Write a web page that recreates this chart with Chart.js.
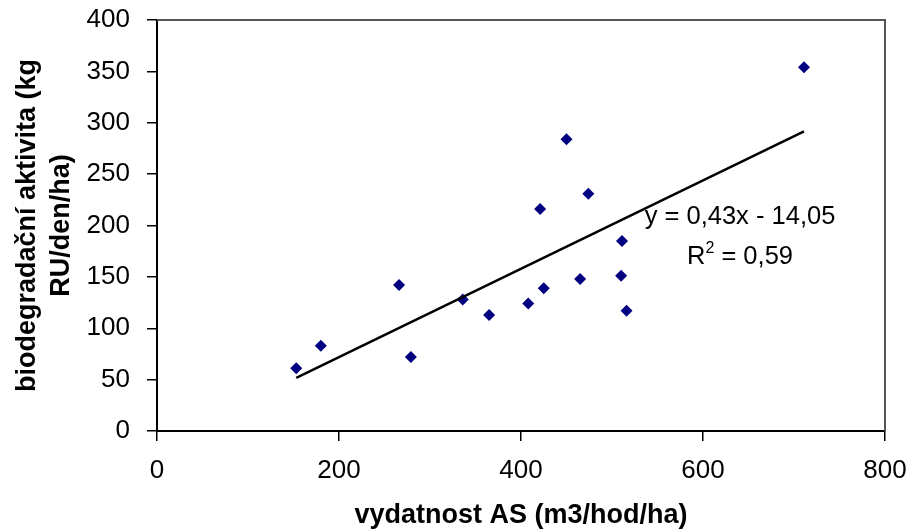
<!DOCTYPE html>
<html>
<head>
<meta charset="utf-8">
<script src="https://cdn.jsdelivr.net/npm/chart.js@4.4.1/dist/chart.umd.min.js"></script>
<style>
  html, body { margin: 0; padding: 0; background: #fff; }
  #wrap { width: 912px; height: 530px; }
</style>
</head>
<body>
<div id="wrap"><canvas id="chart"></canvas></div>
<script>
// values
const flowRates = [153, 180, 266, 279, 336, 365, 408, 421, 425, 450, 465, 474, 510, 511, 516, 711];
const bioActivity = [61, 83, 142, 72, 128, 113, 124, 216, 139, 284, 148, 231, 151, 185, 117, 354];
const trendX = [153, 711];
const trendY = [51.7, 291.7];
const equationText = 'y = 0,43x - 14,05';
const rSquaredText = ' = 0,59';
const xTitle = 'vydatnost AS (m3/hod/ha)';
const yTitle = ['biodegradační aktivita (kg', 'RU/den/ha)'];

const FONT = '"Liberation Sans", Arial, sans-serif';
Chart.defaults.font.family = FONT;
Chart.defaults.color = '#000';

// grey frame on top and right of the plot area
const framePlugin = {
    id: 'frame',
    beforeDatasetsDraw(chart) {
        const { ctx, chartArea: a } = chart;
        ctx.save();
        ctx.strokeStyle = '#555';
        ctx.lineWidth = 2;
        ctx.beginPath();
        ctx.moveTo(a.left, a.top);
        ctx.lineTo(a.right, a.top);
        ctx.lineTo(a.right, a.bottom);
        ctx.stroke();
        ctx.restore();
    }
};

// trendline equation label
const labelPlugin = {
    id: 'trendLabel',
    afterDatasetsDraw(chart) {
        const ctx = chart.ctx;
        const cx = 740;
        ctx.save();
        ctx.fillStyle = '#000';
        ctx.textBaseline = 'alphabetic';
        ctx.font = '25.5px ' + FONT;
        ctx.textAlign = 'center';
        ctx.fillText(equationText, cx, 224);

        ctx.textAlign = 'left';
        const wR = ctx.measureText('R').width;
        const wRest = ctx.measureText(rSquaredText).width;
        ctx.font = '16px ' + FONT;
        const w2 = ctx.measureText('2').width;
        let x = cx - (wR + w2 + wRest) / 2;
        ctx.font = '25.5px ' + FONT;
        ctx.fillText('R', x, 264);
        x += wR;
        ctx.font = '16px ' + FONT;
        ctx.fillText('2', x, 253);
        x += w2;
        ctx.font = '25.5px ' + FONT;
        ctx.fillText(rSquaredText, x, 264);
        ctx.restore();
    }
};

function noScalePadding(scale) {
    scale.paddingLeft = 0;
    scale.paddingRight = 0;
    scale.paddingTop = 0;
    scale.paddingBottom = 0;
}

const ctx = document.getElementById('chart').getContext('2d');
new Chart(ctx, {
    type: 'scatter',
    data: {
        datasets: [
            {
                data: trendX.map((x, i) => ({ x: x, y: trendY[i] })),
                showLine: true,
                borderColor: '#000',
                borderWidth: 2.5,
                pointRadius: 0,
                order: 1
            },
            {
                data: flowRates.map((x, i) => ({ x: x, y: bioActivity[i] })),
                pointStyle: 'rectRot',
                pointRadius: 6,
                backgroundColor: '#000080',
                borderColor: '#000080',
                borderWidth: 0,
                order: 2
            }
        ]
    },
    options: {
        responsive: true,
        maintainAspectRatio: false,
        animation: false,
        layout: { padding: { top: 20, right: 27, left: 0, bottom: 0 } },
        plugins: {
            legend: { display: false },
            tooltip: { enabled: false }
        },
        scales: {
            x: {
                type: 'linear',
                min: 0,
                max: 800,
                ticks: { stepSize: 200, color: '#000', font: { size: 26 }, padding: 14, maxRotation: 0 },
                grid: { drawOnChartArea: false, drawTicks: true, tickLength: 10, color: '#000', lineWidth: 1.5 },
                border: { color: '#000', width: 2 },
                title: {
                    display: true,
                    text: xTitle,
                    color: '#000',
                    font: { size: 27, weight: 'bold', lineHeight: 1 },
                    padding: { top: 0, bottom: 1 }
                },
                afterFit(scale) {
                    scale.height = 99;
                    noScalePadding(scale);
                }
            },
            y: {
                min: 0,
                max: 400,
                ticks: { stepSize: 50, color: '#000', font: { size: 26 }, padding: 17 },
                grid: { drawOnChartArea: false, drawTicks: true, tickLength: 10, color: '#000', lineWidth: 1.5 },
                border: { color: '#000', width: 2 },
                title: {
                    display: true,
                    text: yTitle,
                    color: '#000',
                    font: { size: 27, weight: 'bold', lineHeight: 1.25 },
                    padding: { top: 11, bottom: 0 }
                },
                afterFit(scale) {
                    scale.width = 157;
                    noScalePadding(scale);
                }
            }
        }
    },
    plugins: [framePlugin, labelPlugin]
});
</script>
</body>
</html>
